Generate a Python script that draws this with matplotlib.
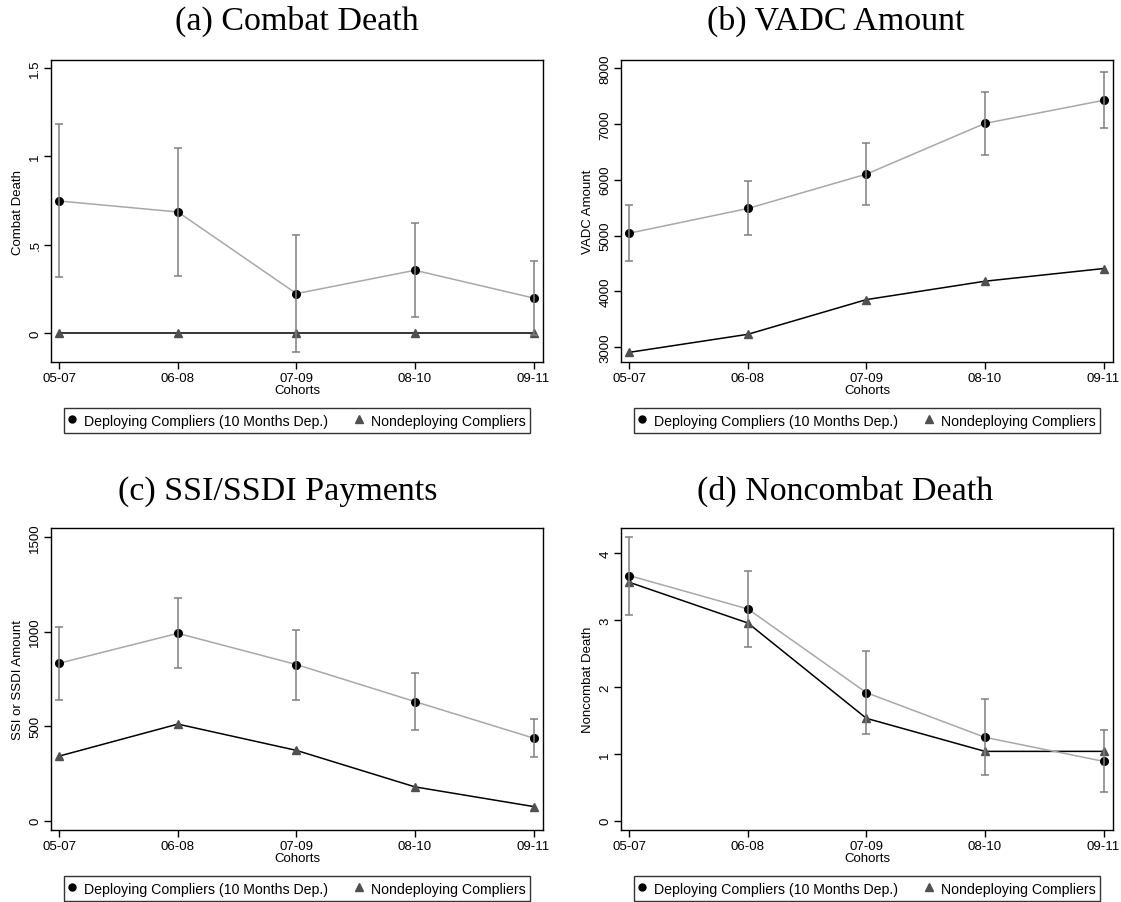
import matplotlib
matplotlib.use('Agg')
import matplotlib.pyplot as plt
from matplotlib.lines import Line2D

plt.rcParams['font.family'] = ['Liberation Sans', 'DejaVu Sans']

cohorts = ['05-07', '06-08', '07-09', '08-10', '09-11']

# (a) combat death
combat_dep = [0.747, 0.685, 0.223, 0.355, 0.198]
combat_lo = [0.315, 0.321, -0.108, 0.089, -0.010]
combat_hi = [1.181, 1.045, 0.553, 0.625, 0.406]
combat_non = [0.0, 0.0, 0.0, 0.0, 0.0]

# (b) VADC amount
vadc_dep = [5043, 5485, 6100, 7008, 7421]
vadc_lo = [4547, 5007, 5539, 6441, 6919]
vadc_hi = [5539, 5969, 6656, 7576, 7922]
vadc_non = [2910, 3233, 3854, 4183, 4410]

# (c) SSI/SSDI payments
ssi_dep = [833, 991, 826, 630, 437]
ssi_lo = [640, 807, 640, 482, 337]
ssi_hi = [1026, 1177, 1011, 779, 537]
ssi_non = [342, 511, 372, 179, 75]

# (d) noncombat death
nc_dep = [3.666, 3.167, 1.915, 1.247, 0.888]
nc_lo = [3.072, 2.603, 1.297, 0.678, 0.434]
nc_hi = [4.249, 3.730, 2.544, 1.820, 1.351]
nc_non = [3.566, 2.957, 1.531, 1.037, 1.037]

panels = [
    ('(a) Combat Death', 'Combat Death', combat_dep, combat_lo, combat_hi, combat_non,
     [0, 0.5, 1, 1.5], ['0', '.5', '1', '1.5'], (-0.164, 1.545)),
    ('(b) VADC Amount', 'VADC Amount', vadc_dep, vadc_lo, vadc_hi, vadc_non,
     [3000, 4000, 5000, 6000, 7000, 8000], ['3000', '4000', '5000', '6000', '7000', '8000'], (2737, 8143)),
    ('(c) SSI/SSDI Payments', 'SSI or SSDI Amount', ssi_dep, ssi_lo, ssi_hi, ssi_non,
     [0, 500, 1000, 1500], ['0', '500', '1000', '1500'], (-49, 1548)),
    ('(d) Noncombat Death', 'Noncombat Death', nc_dep, nc_lo, nc_hi, nc_non,
     [0, 1, 2, 3, 4], ['0', '1', '2', '3', '4'], (-0.139, 4.378)),
]

W, H = 1121, 903
fig = plt.figure(figsize=(W / 100, H / 100), dpi=100)

# axes boxes in pixels: left, top
boxes = [(51, 61), (621, 61), (51, 529), (621, 529)]
title_pos = [(297, 30), (836, 30), (278, 500), (845, 500)]
bw, bh = 492, 302

x = list(range(len(cohorts)))

for (title, ylab, dep, lo, hi, non, yt, ytl, ylim), (l, t), (tx, ty) in zip(panels, boxes, title_pos):
    ax = fig.add_axes([l / W, 1 - (t + bh) / H, bw / W, bh / H])
    err_lo = [d - a for d, a in zip(dep, lo)]
    err_hi = [b - d for d, b in zip(dep, hi)]

    ax.plot(x, non, color='black', lw=1.1, zorder=2)
    ax.plot(x, non, ls='none', marker='^', ms=6, color='#505050', zorder=3)
    ax.plot(x, dep, color='#a8a8a8', lw=1.1, zorder=4)
    ax.plot(x, dep, ls='none', marker='o', ms=5.5, color='black', zorder=5)
    ax.errorbar(x, dep, yerr=[err_lo, err_hi], fmt='none', ecolor='#808080',
                elinewidth=1.1, capsize=3, capthick=1.1, zorder=6)

    ax.set_xlim(-0.07, 4.08)
    ax.set_ylim(*ylim)
    ax.set_xticks(x)
    ax.set_xticklabels(cohorts, fontsize=9.5)
    ax.set_yticks(yt)
    ax.set_yticklabels(ytl, fontsize=9.5, rotation=90, va='center')
    ax.tick_params(direction='out', length=5, width=1, pad=2)
    for s in ax.spines.values():
        s.set_linewidth(1)
    ax.set_xlabel('Cohorts', fontsize=9.5, labelpad=0)
    ax.set_ylabel(ylab, fontsize=9.5, labelpad=4)

    handles = [
        Line2D([], [], ls='none', marker='o', ms=5, color='black'),
        Line2D([], [], ls='none', marker='^', ms=5.5, color='#505050'),
    ]
    leg = ax.legend(handles, ['Deploying Compliers (10 Months Dep.)', 'Nondeploying Compliers'],
                    loc='center', bbox_to_anchor=(0.5, -0.194), ncol=2, fontsize=10.2,
                    frameon=True, fancybox=False, edgecolor='black', handlelength=0.5,
                    handleheight=1.3, handletextpad=0.6, columnspacing=1.9, borderpad=0.35)
    leg.get_frame().set_linewidth(1)

    fig.text(tx / W, 1 - ty / H, title, ha='center', va='baseline',
             fontsize=24.5, family=['Liberation Serif', 'DejaVu Serif'])

fig.savefig('out.png', dpi=100)
